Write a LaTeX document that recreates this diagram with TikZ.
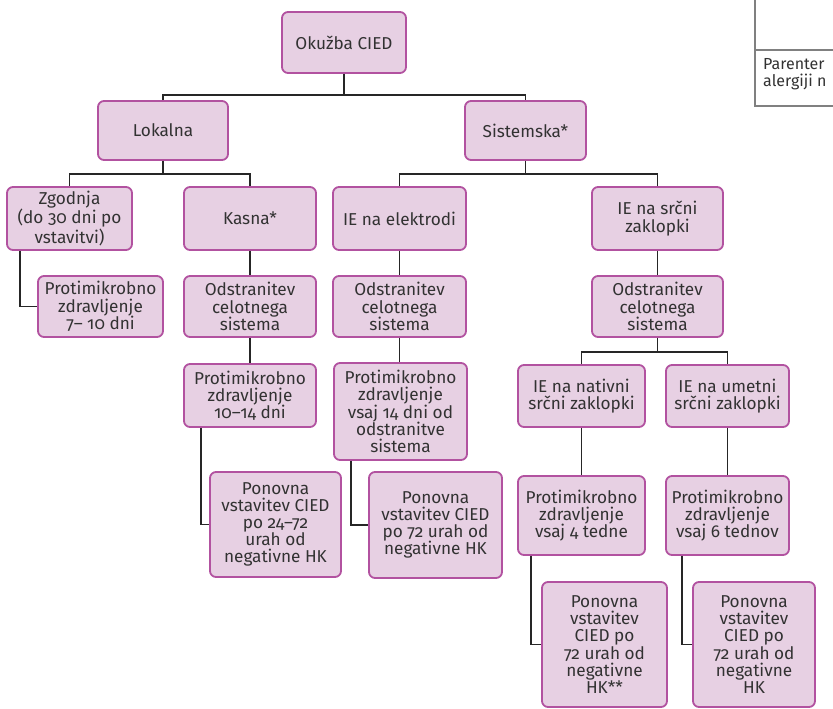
\documentclass[tikz,border=0pt]{standalone}
\usepackage{fontspec}
\setmainfont{Fira Sans}[Numbers=OldStyle]
\definecolor{boxfill}{RGB}{231,208,227}
\definecolor{boxdraw}{RGB}{178,82,160}
\definecolor{txt}{RGB}{50,50,50}
\definecolor{tabline}{RGB}{128,128,128}
\begin{document}
\begin{tikzpicture}[x=1pt,y=-1pt,
  bx/.style={draw=boxdraw,fill=boxfill,line width=1.8pt,rounded corners=6pt,
    align=center,inner sep=0pt,text=txt,
    font=\fontsize{17.2}{17.2}\selectfont},
  ln/.style={draw=black!85,line width=1.8pt}]
\useasboundingbox (0,0) rectangle (833,709);
\newcommand\bxat[6]{\node[bx,minimum width=#4pt,minimum height=#5pt] (#1) at (#2,#3) {#6};}
\bxat{top}{344}{42.5}{124}{61}{Okužba CIED}
\bxat{lok}{163}{130.5}{130}{59}{Lokalna}
\bxat{sis}{525.5}{130.5}{121}{59}{Sistemska*}
\bxat{zg}{69.5}{218.5}{125}{63}{Zgodnja\\(do 30 dni po\\vstavitvi)}
\bxat{kas}{250}{218.5}{132}{63}{Kasna*}
\bxat{ieA}{399.5}{218.5}{133}{63}{IE na elektrodi}
\bxat{ieB}{657.5}{218.5}{131}{63}{IE na srčni\\zaklopki}
\bxat{pA}{100.5}{306.5}{125}{61}{Protimikrobno\\zdravljenje\\7– 10 dni}
\bxat{oA}{250}{306.5}{132}{61}{Odstranitev\\celotnega\\sistema}
\bxat{oB}{399.5}{306.5}{133}{61}{Odstranitev\\celotnega\\sistema}
\bxat{oC}{657.5}{306.5}{131}{61}{Odstranitev\\celotnega\\sistema}
\bxat{pB}{250}{395.5}{132}{63}{Protimikrobno\\zdravljenje\\10–14 dni}
\bxat{pC}{400.5}{411.5}{133}{97}{Protimikrobno\\zdravljenje\\vsaj 14 dni od\\odstranitve\\sistema}
\bxat{nA}{581.5}{396}{127}{62}{IE na nativni\\srčni zaklopki}
\bxat{nB}{727.5}{396}{123}{62}{IE na umetni\\srčni zaklopki}
\bxat{rA}{275.5}{524.5}{131}{105}{Ponovna\\vstavitev CIED\\po 24–72\\urah od\\negativne HK}
\bxat{rB}{435.5}{525}{133}{106}{Ponovna\\vstavitev CIED\\po 72 urah od\\negativne HK}
\bxat{tA}{581.5}{515.5}{127}{79}{Protimikrobno\\zdravljenje\\vsaj 4 tedne}
\bxat{tB}{727.5}{515.5}{123}{79}{Protimikrobno\\zdravljenje\\vsaj 6 tednov}
\bxat{rC}{604.5}{644.5}{125}{125}{Ponovna\\vstavitev\\CIED po\\72 urah od\\negativne\\HK**}
\bxat{rD}{754}{644.5}{122}{125}{Ponovna\\vstavitev\\CIED po\\72 urah od\\negativne\\HK}
% connectors
\coordinate (j1) at (344,95);
\draw[ln] (top.south) -- (j1);
\draw[ln] (lok.north) |- (j1) -| (sis.north);
\coordinate (j2) at (163,174);
\draw[ln] (lok.south) -- (j2);
\draw[ln] (zg.north) |- (j2) -| (kas.north);
\coordinate (j3) at (525.5,174);
\draw[ln] (sis.south) -- (j3);
\draw[ln] (ieA.north) |- (j3) -| (ieB.north);
\draw[ln] (zg.south -| 20,0) |- (pA.west);
\draw[ln] (kas) -- (oA);
\draw[ln] (oA) -- (pB);
\draw[ln] (pB.south -| 201,0) |- (rA.west);
\draw[ln] (ieA) -- (oB);
\draw[ln] (oB.south) -- (pC.north -| oB.south);
\draw[ln] (pC.south -| 351,0) |- (rB.west);
\draw[ln] (ieB) -- (oC);
\coordinate (j4) at (657.5,352);
\draw[ln] (oC.south) -- (j4);
\draw[ln] (nA.north) |- (j4) -| (nB.north);
\draw[ln] (nA) -- (tA);
\draw[ln] (nB) -- (tB);
\draw[ln] (tA.south -| 531,0) |- (rC.west);
\draw[ln] (tB.south -| 682,0) |- (rD.west);
% table fragment
\begin{scope}
\clip (0,0) rectangle (833,709);
\draw[tabline,line width=1.3pt] (755,-5) -- (755,106) -- (845,106);
\draw[tabline,line width=1.3pt] (755,50) -- (845,50);
\node[anchor=north west,align=left,inner sep=0pt,text=txt,font=\fontsize{16}{17}\selectfont] (tab) at (763,58) {Parenter\\alergiji n};
\end{scope}
\end{tikzpicture}
\end{document}
